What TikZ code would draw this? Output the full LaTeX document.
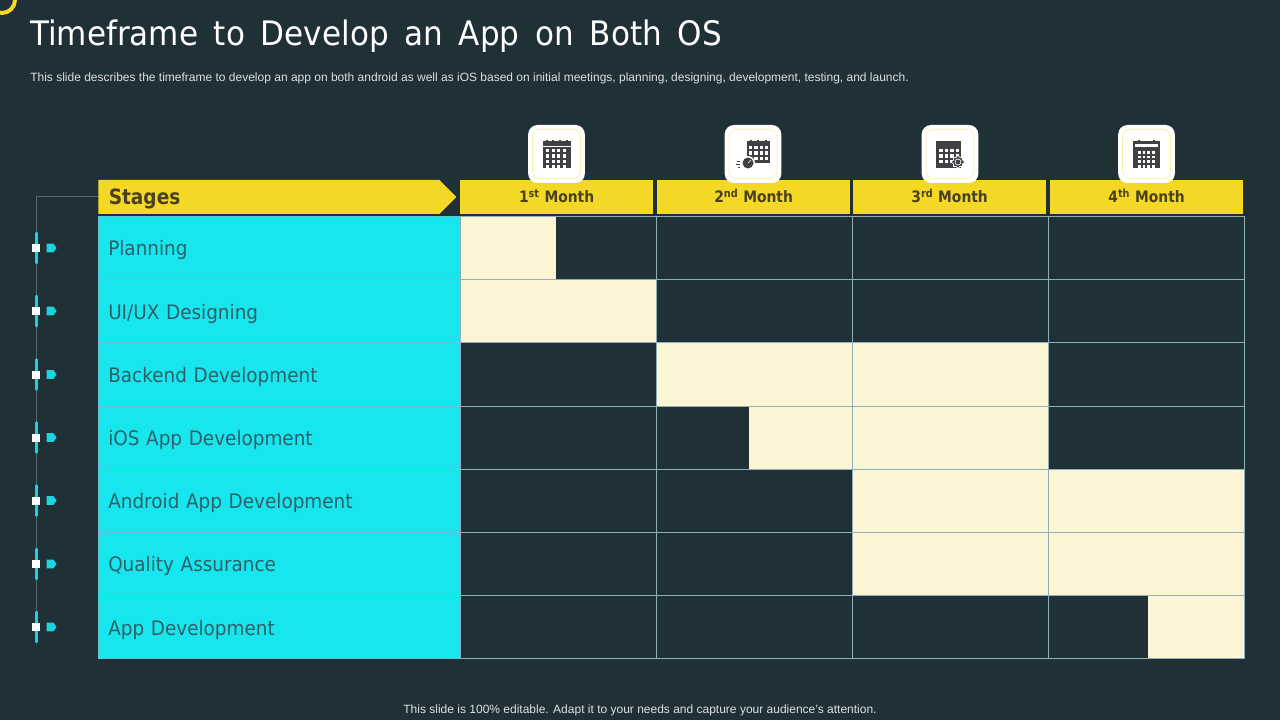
\documentclass[tikz,border=0pt]{standalone}
\usepackage{fontspec}
\setmainfont{Liberation Sans}
\newfontfamily\headfont[FakeStretch=0.88]{DejaVu Sans}
\newfontfamily\wordfont[FakeStretch=0.92,WordSpace=1.6]{DejaVu Sans}
\usetikzlibrary{shapes.arrows,shapes.symbols}

\definecolor{bgdark}{HTML}{1F3036}
\definecolor{barcyan}{HTML}{18E6EE}
\definecolor{railcyan}{HTML}{1FD3DE}
\definecolor{headyellow}{HTML}{F3D826}
\definecolor{cream}{HTML}{FCF5D4}
\definecolor{gridblue}{HTML}{8FB0B8}
\definecolor{stagetext}{HTML}{2F6068}
\definecolor{headtext}{HTML}{4A4020}
\definecolor{icondark}{HTML}{3F4144}
\definecolor{noteline}{HTML}{53666C}

\newcommand{\calgrid}[6]{% x y cols rows step size
  \foreach \i in {1,...,#3} \foreach \j in {1,...,#4}
    \fill[white] ({#1+(\i-1)*#5},{#2+(\j-1)*#5}) rectangle +(#6,#6);
}

\begin{document}
\begin{tikzpicture}[x=0.75pt,y=-0.75pt,
    cellbox/.style={draw=gridblue,line width=0.6pt,minimum width=147pt,minimum height=47.4pt,inner sep=0pt,anchor=north west},
    stagebox/.style={fill=barcyan,draw=gridblue!60!barcyan,line width=0.4pt,minimum width=271.5pt,minimum height=47.4pt,inner sep=0pt,anchor=north west,text=stagetext,font=\wordfont\fontsize{15pt}{18pt}\selectfont,text width=256.5pt,text height=12pt,text depth=0pt,align=left},
    monthbox/.style={fill=headyellow,minimum width=144.5pt,minimum height=25.5pt,inner sep=0pt,anchor=north west,text=headtext,text height=8.5pt,text depth=0pt,font=\headfont\bfseries\fontsize{11.8pt}{15pt}\selectfont},
    iconbox/.style={fill=white,rounded corners=7pt,minimum width=42.5pt,minimum height=43.5pt,inner sep=0pt},
    iconring/.style={draw=headyellow!40!white,line width=0.5pt,rounded corners=5.5pt,minimum width=36pt,minimum height=37pt,inner sep=0pt},
    creambox/.style={fill=cream,inner sep=0pt,anchor=north west,minimum height=47.4pt}]
  \useasboundingbox (0,0) rectangle (1280,720);
  \fill[bgdark] (0,0) rectangle (1280,720);
  \draw[headyellow,line width=3pt] (2,0) circle (13);

  \node[anchor=west,inner sep=0pt,text=white,font=\wordfont\fontsize{25.3pt}{30pt}\selectfont] (title) at (30,36) {Timeframe to Develop an App on Both OS};
  \node[anchor=west,inner sep=0pt,text=white!85!bgdark,font=\fontsize{9pt}{11pt}\selectfont] (subtitle) at (30,78) {This slide describes the timeframe to develop an app on both android as well as iOS based on initial meetings, planning, designing, development, testing, and launch.};
  \node[inner sep=0pt,text=white!85!bgdark,font=\fontsize{9pt}{11pt}\selectfont] (note) at (640,710) {This slide is 100\% editable. Adapt it to your needs and capture your audience's attention.};

  % stages
  \node[shape=signal,signal to=east,signal pointer angle=90,fill=headyellow,minimum width=268.5pt,minimum height=25.5pt,inner sep=0pt,inner xsep=7.5pt,anchor=west,text width=240pt,text height=12pt,text depth=0pt,align=left,text=headtext,font=\headfont\bfseries\fontsize{15.8pt}{18pt}\selectfont] (stages) at (98,197) {Stages};
  \foreach \n/\ypos/\label in {1/216/Planning,2/279.2/{UI/UX Designing},3/342.4/Backend Development,4/405.6/iOS App Development,5/468.8/Android App Development,6/532/Quality Assurance,7/595.2/App Development}
    \node[stagebox] (stage\n) at (98,\ypos) {\label};

  % months
  \node[monthbox] (m1) at (460,180) {1\textsuperscript{st} Month};
  \node[monthbox] (m2) at (657,180) {2\textsuperscript{nd} Month};
  \node[monthbox] (m3) at (853,180) {3\textsuperscript{rd} Month};
  \node[monthbox] (m4) at (1050,180) {4\textsuperscript{th} Month};

  % cream bars
  \node[creambox,minimum width=72pt] (bar1) at (460,216) {};
  \node[creambox,minimum width=147pt] (bar2) at (460,279.2) {};
  \node[creambox,minimum width=294pt] (bar3) at (656,342.4) {};
  \node[creambox,minimum width=224.25pt] (bar4) at (749,405.6) {};
  \node[creambox,minimum width=294pt] (bar5) at (852,468.8) {};
  \node[creambox,minimum width=294pt] (bar6) at (852,532) {};
  \node[creambox,minimum width=72pt] (bar7) at (1148,595.2) {};

  % grid
  \foreach \ypos in {216,279.2,342.4,405.6,468.8,532,595.2}
    \foreach \xpos in {460,656,852,1048}
      \node[cellbox] at (\xpos,\ypos) {};

  % left rail
  \coordinate (railtop) at (36.5,196);
  \coordinate (railend) at (36.5,627);
  \draw[noteline,line width=0.6pt] (stages.west |- railtop) -- (railtop) -- (railend);
  \foreach \n/\ypos in {1/248,2/311,3/374.5,4/437.5,5/500.5,6/564,7/627} {
    \draw[railcyan,line width=2pt,line cap=round] (36.5,\ypos-15) -- (36.5,\ypos+15);
    \node[fill=white,minimum size=6pt,inner sep=0pt] (dot\n) at (36,\ypos) {};
    \node[shape=signal,signal to=east,signal pointer angle=110,fill=railcyan,minimum width=7.5pt,minimum height=6.5pt,inner sep=0pt] (tag\n) at (50,\ypos) {};
  }

  % icons
  \foreach \n/\xpos in {1/556.5,2/753,3/950,4/1146.5} {
    \node[iconbox] (icon\n) at (\xpos,154) {};
    \node[iconring] (ring\n) at (\xpos,154) {};
  }
  \fill[icondark] (543,141) rectangle (571,168);
  \draw[icondark,line width=1pt] (547,140) -- (547,143) (553,140) -- (553,143) (560,140) -- (560,143) (567,140) -- (567,143);
  \draw[white,line width=0.4pt] (543,146) -- (571,146);
  \calgrid{546}{149}{4}{4}{5.5}{3.2}
  \fill[icondark] (747,141) rectangle (770,163);
  \draw[icondark,line width=1pt] (751,140) -- (751,143) (758,140) -- (758,143) (766,140) -- (766,143);
  \calgrid{749}{146}{4}{3}{5.3}{3.4}
  \fill[white] (748,163) circle (7);
  \fill[icondark] (748,163) circle (5.5);
  \draw[white,line width=0.4pt] (748,163) -- (751,160);
  \draw[icondark,line width=0.6pt] (737,161) -- (740,161) (736,164) -- (740,164) (738,167) -- (740,167);
  \fill[icondark] (936,141) rectangle (961,168);
  \calgrid{939}{149}{4}{3}{5.5}{3.5}
  \node[shape=starburst,starburst points=8,starburst point height=1.8pt,fill=icondark,draw=white,line width=0.5pt,minimum size=11pt,inner sep=0pt] (gear) at (958,162) {};
  \draw[white,line width=0.5pt] (gear.center) circle (3);
  \fill[icondark] (1133,141) rectangle (1160,168);
  \draw[icondark,line width=1pt] (1139,140) -- (1139,143) (1154,140) -- (1154,143);
  \fill[white] (1135,144) rectangle (1158,147);
  \calgrid{1138}{151}{4}{4}{4.6}{2.8}
\end{tikzpicture}
\end{document}
